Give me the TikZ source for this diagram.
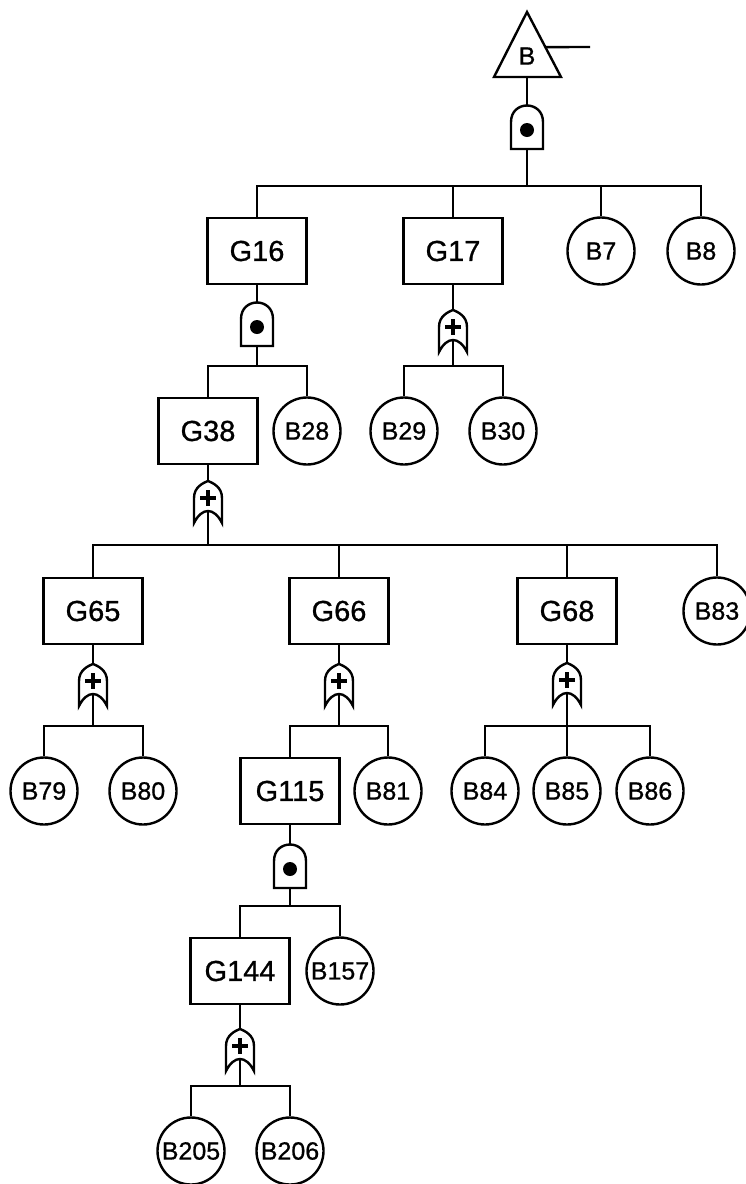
\documentclass[tikz,border=0pt]{standalone}
\usepackage{fontspec}
\setmainfont{Liberation Sans}
\newfontfamily\lblfont{Liberation Sans}[FakeBold=0.8]
\usetikzlibrary{calc}

\tikzset{
  gatebox/.style={draw, rectangle, minimum width=99pt, minimum height=66pt, inner sep=0pt, font=\lblfont\fontsize{29}{29}\selectfont},
  basic/.style={draw, circle, minimum size=67pt, inner sep=0pt, font=\lblfont\fontsize{25}{25}\selectfont},
  andgate/.pic={
    \draw (-16,22) -- (-16,-5) .. controls (-16,-27) and (16,-27) .. (16,-5) -- (16,22) -- cycle;
    \fill (0,3) circle[radius=7pt];
    \coordinate (-out) at (0,-22);
    \coordinate (-in) at (0,22);
  },
  orgate/.pic={
    \draw (-14,21) -- (-14,-4) .. controls (-14,-15) and (-5,-19) .. (0,-21)
      .. controls (5,-19) and (14,-15) .. (14,-4) -- (14,21)
      .. controls (6,5) and (-6,5) .. cycle;
    \draw[line width=4pt] (-8,-4) -- (8,-4) (0,-12) -- (0,4);
    \coordinate (-out) at (0,-21);
    \coordinate (-in) at (0,9);
  }
}

\begin{document}
\begin{tikzpicture}[x=1pt, y=-1pt, line width=2.4pt]
\useasboundingbox (0,0) rectangle (745,1184);

% top event B
\coordinate (Btop) at (527,12);
\coordinate (Bleft) at (494,77);
\coordinate (Bright) at (561,77);
\coordinate (Bbase) at (527,77);
\coordinate (Bline) at (590,47);
\draw (Bleft) -- (Btop) -- (Bright) -- cycle;
\node[font=\lblfont\fontsize{25}{25}\selectfont] (B) at (527,56) {B};
\draw ($(Btop)!0.54!(Bright)$) -- (Bline);

% gates
\pic (a1) at (527,127) {andgate};
\pic (a16) at (257,324) {andgate};
\pic (o17) at (453,331) {orgate};
\pic (o38) at (208,502) {orgate};
\pic (o65) at (93,685) {orgate};
\pic (o66) at (339,685) {orgate};
\pic (o68) at (567,684) {orgate};
\pic (a115) at (290,866) {andgate};
\pic (o144) at (240,1050) {orgate};

% events
\node[gatebox] (g16) at (257,251) {G16};
\node[gatebox] (g17) at (453,251) {G17};
\node[basic] (b7) at (601,251) {B7};
\node[basic] (b8) at (701,251) {B8};

\node[gatebox] (g38) at (208,431) {G38};
\node[basic] (b28) at (307,431) {B28};
\node[basic] (b29) at (404,431) {B29};
\node[basic] (b30) at (503,431) {B30};

\node[gatebox] (g65) at (93,611) {G65};
\node[gatebox] (g66) at (339,611) {G66};
\node[gatebox] (g68) at (567,611) {G68};
\node[basic] (b83) at (717,611) {B83};

\node[basic] (b79) at (44,791) {B79};
\node[basic] (b80) at (143,791) {B80};
\node[gatebox] (g115) at (290,791) {G115};
\node[basic] (b81) at (388,791) {B81};
\node[basic] (b84) at (485,791) {B84};
\node[basic] (b85) at (567,791) {B85};
\node[basic] (b86) at (650,791) {B86};

\node[gatebox] (g144) at (240,971) {G144};
\node[basic] (b157) at (340,971) {B157};

\node[basic] (b205) at (191,1151) {B205};
\node[basic] (b206) at (290,1151) {B206};

% bars
\coordinate (bar1) at (527,186);
\coordinate (bar16) at (257,366);
\coordinate (bar17) at (453,366);
\coordinate (bar38) at (208,545);
\coordinate (bar65) at (93,726);
\coordinate (bar66) at (339,726);
\coordinate (bar68) at (567,726);
\coordinate (bar115) at (290,906);
\coordinate (bar144) at (240,1086);

% connectors
\draw (Bbase) -- (a1-out);
\foreach \c in {g16,g17,b7,b8} \draw (a1-in) -- (bar1) -| (\c.north);
\draw (g16.south) -- (a16-out);
\foreach \c in {g38,b28} \draw (a16-in) -- (bar16) -| (\c.north);
\draw (g17.south) -- (o17-out);
\foreach \c in {b29,b30} \draw (o17-in) -- (bar17) -| (\c.north);
\draw (g38.south) -- (o38-out);
\foreach \c in {g65,g66,g68,b83} \draw (o38-in) -- (bar38) -| (\c.north);
\draw (g65.south) -- (o65-out);
\foreach \c in {b79,b80} \draw (o65-in) -- (bar65) -| (\c.north);
\draw (g66.south) -- (o66-out);
\foreach \c in {g115,b81} \draw (o66-in) -- (bar66) -| (\c.north);
\draw (g68.south) -- (o68-out);
\foreach \c in {b84,b85,b86} \draw (o68-in) -- (bar68) -| (\c.north);
\draw (g115.south) -- (a115-out);
\foreach \c in {g144,b157} \draw (a115-in) -- (bar115) -| (\c.north);
\draw (g144.south) -- (o144-out);
\foreach \c in {b205,b206} \draw (o144-in) -- (bar144) -| (\c.north);
\end{tikzpicture}
\end{document}
